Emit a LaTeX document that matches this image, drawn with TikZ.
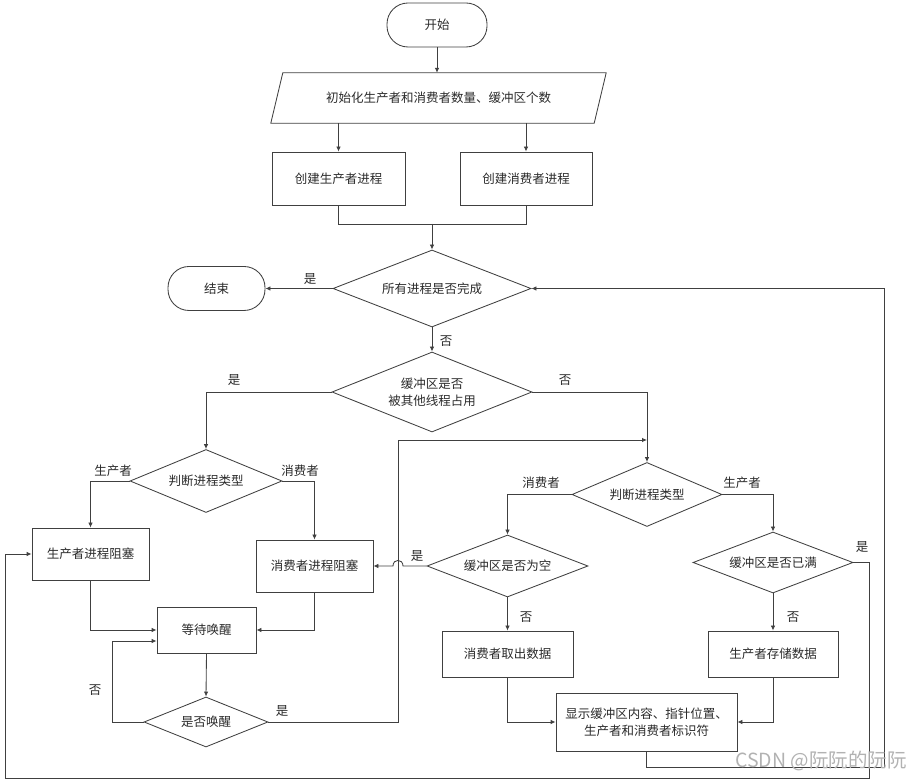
\documentclass[tikz,border=0pt]{standalone}
\usepackage{fontspec}
\setmainfont{Noto Sans CJK SC}
\usetikzlibrary{shapes.geometric,arrows.meta}
\definecolor{ln}{HTML}{404040}
\definecolor{tx}{HTML}{2A2A2A}
\begin{document}
\begin{tikzpicture}[x=1pt,y=-1pt,
  every node/.style={font=\fontsize{12.5}{17}\selectfont, text=tx},
  box/.style={draw=ln, line width=0.85pt, rectangle, inner sep=0pt, align=center},
  dia/.style={draw=ln, line width=0.85pt, diamond, aspect=3, inner sep=0pt, align=center},
  term/.style={draw=ln, line width=0.85pt, rectangle, rounded corners=21pt, inner sep=0pt},
  conn/.style={draw=ln, line width=0.85pt},
  arr/.style={conn, -{Latex[length=5pt,width=4.5pt]}},
  lab/.style={inner sep=1pt}]
\useasboundingbox (0,0) rectangle (922,783);

% top column
\node[term, minimum width=100pt, minimum height=44pt] (start) at (437,25) {开始};
\node[minimum width=323pt, minimum height=50pt, inner sep=0pt] (init) at (438.5,98) {初始化生产者和消费者数量、缓冲区个数};
\draw[conn] ([xshift=6pt]init.north west) -- ([xshift=6pt]init.north east) -- ([xshift=-6pt]init.south east) -- ([xshift=-6pt]init.south west) -- cycle;
\node[box, minimum width=133pt, minimum height=53pt] (cp) at (338.5,178.5) {创建生产者进程};
\node[box, minimum width=132pt, minimum height=53pt] (cc) at (526,178.5) {创建消费者进程};
\node[dia, minimum width=198pt, minimum height=77pt] (d1) at (432,288.5) {所有进程是否完成};
\node[term, minimum width=97pt, minimum height=44pt] (fin) at (216.5,288.5) {结束};
\node[dia, minimum width=200pt, minimum height=80pt] (d2) at (432,392) {缓冲区是否\\被其他线程占用};

% left column
\node[dia, minimum width=152pt, minimum height=63pt] (lj) at (206,481) {判断进程类型};
\node[box, minimum width=117pt, minimum height=52pt] (pb) at (90.5,554) {生产者进程阻塞};
\node[box, minimum width=117pt, minimum height=52pt] (cb) at (314.5,566) {消费者进程阻塞};
\node[box, minimum width=99pt, minimum height=46pt] (wt) at (206.5,630) {等待唤醒};
\node[dia, minimum width=124pt, minimum height=50pt] (wk) at (206,722) {是否唤醒};

% right column
\node[dia, minimum width=150pt, minimum height=64pt] (rj) at (647,494.5) {判断进程类型};
\node[dia, minimum width=161pt, minimum height=62pt] (em) at (507.5,566) {缓冲区是否为空};
\node[dia, minimum width=160pt, minimum height=61pt] (fu) at (773,562.5) {缓冲区是否已满};
\node[box, minimum width=131pt, minimum height=46pt] (tk) at (507.5,654) {消费者取出数据};
\node[box, minimum width=130pt, minimum height=46pt] (st) at (773,654) {生产者存储数据};
\node[box, minimum width=181pt, minimum height=58pt] (ds) at (646.5,722) {显示缓冲区内容、指针位置、\\生产者和消费者标识符};

% helper coordinates
\coordinate (m) at (432,224);
\coordinate (j1) at (398,440);
\coordinate (j0) at (398,722);
\coordinate (r1) at (884,767);
\coordinate (r2) at (869,778);
\coordinate (l2) at (5,778);
\coordinate (lw) at (112,722);

% connectors
\draw[arr] (start.south) -- (start.south |- init.north);
\draw[arr] (init.south -| cp) -- (cp.north);
\draw[arr] (init.south -| cc) -- (cc.north);
\draw[conn] (cp.south) -- (cp.south |- m) -- (cc.south |- m) -- (cc.south);
\draw[arr] (m) -- (d1.north);
\draw[arr] (d1.west) -- (fin.east);
\draw[arr] (d1.south) -- (d2.north);
\draw[arr] (d2.west) -| (lj.north);
\draw[arr] (d2.east) -| (rj.north);

\draw[arr] (lj.west) -| (pb.north);
\draw[arr] (lj.east) -| (cb.north);
\draw[arr] (pb.south) |- (wt.west);
\draw[arr] (cb.south) |- (wt.east);
\draw[arr] (wt.south) -- (wk.north);
\draw[arr] (wk.west) -- (lw) |- ([yshift=-11pt]wt.west);
\draw[arr] (wk.east) -- (j0) -- (j1) -- (j1 -| rj.north);

\draw[arr] (rj.west) -| (em.north);
\draw[arr] (rj.east) -| (fu.north);
\draw[arr] (em.south) -- (tk.north);
\draw[arr] (fu.south) -- (st.north);
\draw[arr] (tk.south) |- (ds.west);
\draw[arr] (st.south) |- (ds.east);
\draw[arr] (em.west) -- (403,566) .. controls (403,558.5) and (393,558.5) .. (393,566) -- (cb.east);
\draw[arr] (ds.south) |- (r1) |- (d1.east);
\draw[arr] (fu.east) -| (r2) -- (l2) |- (pb.west);

% labels
\node[lab] (t1) at (310,279) {是};
\node[lab] (t2) at (446,341) {否};
\node[lab] (t3) at (234,380) {是};
\node[lab] (t4) at (565,380) {否};
\node[lab] (t5) at (113,471) {生产者};
\node[lab] (t6) at (300,471) {消费者};
\node[lab] (t7) at (95,690) {否};
\node[lab] (t8) at (282,711) {是};
\node[lab] (t9) at (541,483) {消费者};
\node[lab] (t10) at (742,483) {生产者};
\node[lab] (t11) at (417,556) {是};
\node[lab] (t12) at (526,617) {否};
\node[lab] (t13) at (793,617) {否};
\node[lab] (t14) at (862,547) {是};

\node[text=gray!60, font=\fontsize{19.5}{22}\selectfont, inner sep=0pt] (wm) at (821,761) {CSDN @阮阮的阮阮};
\end{tikzpicture}
\end{document}
